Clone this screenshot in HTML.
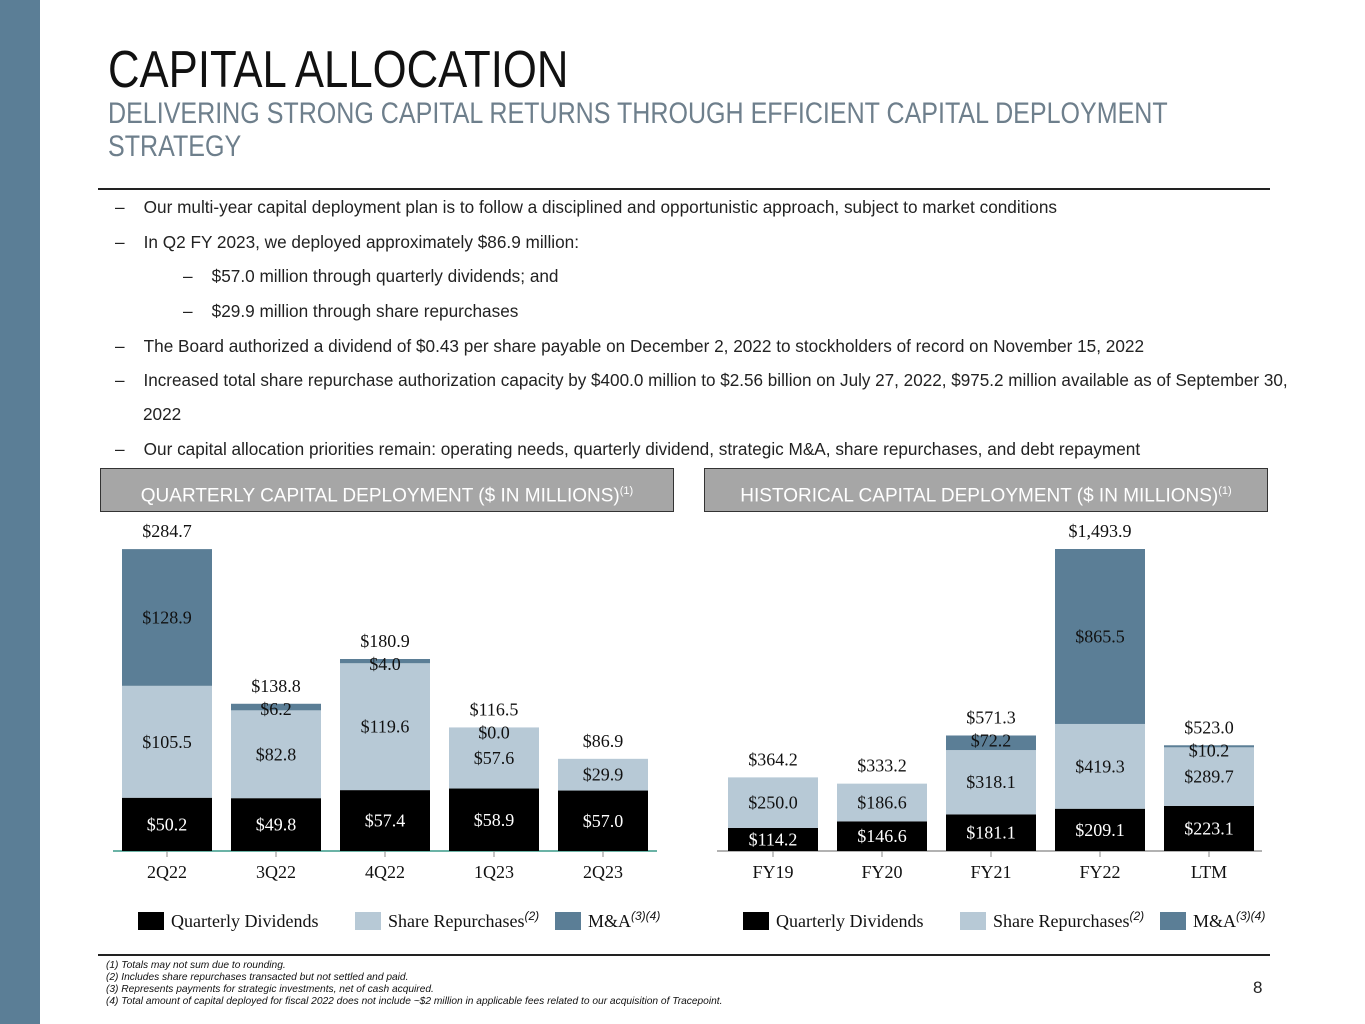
<!DOCTYPE html>
<html><head><meta charset="utf-8">
<style>
body{margin:0;width:1365px;height:1024px;position:relative;background:#fff;overflow:hidden;font-family:"Liberation Sans",sans-serif}
.abs{position:absolute}
.bul{position:absolute;font-size:17.2px;color:#222;white-space:nowrap}
.box{position:absolute;top:468px;height:44px;background:#a6a6a6;border:1.5px solid #333;color:#fff;font-size:19px;line-height:44px;text-align:center;box-sizing:border-box}
.box sup{font-size:11px}
.fn{position:absolute;left:106px;font-size:10.2px;font-style:italic;color:#111;white-space:nowrap}
</style></head><body>
<div class="abs" style="left:0;top:0;width:40px;height:1024px;background:#5b7e96"></div>
<div class="abs" style="left:108px;top:40px;font-size:52px;color:#111;white-space:nowrap;transform:scaleX(0.84);transform-origin:left top">CAPITAL ALLOCATION</div>
<div class="abs" style="left:108px;top:97px;font-size:30px;line-height:33px;color:#6e7f8c;white-space:nowrap;transform:scaleX(0.835);transform-origin:left top">DELIVERING STRONG CAPITAL RETURNS THROUGH EFFICIENT CAPITAL DEPLOYMENT<br>STRATEGY</div>
<div class="abs" style="left:98px;top:188px;width:1172px;height:2px;background:#222"></div>
<div class="bul" style="left:115px;top:197px">–&nbsp;&nbsp;&nbsp;&nbsp;Our multi-year capital deployment plan is to follow a disciplined and opportunistic approach, subject to market conditions</div>
<div class="bul" style="left:115px;top:232px">–&nbsp;&nbsp;&nbsp;&nbsp;In Q2 FY 2023, we deployed approximately $86.9 million:</div>
<div class="bul" style="left:183px;top:266px">–&nbsp;&nbsp;&nbsp;&nbsp;$57.0 million through quarterly dividends; and</div>
<div class="bul" style="left:183px;top:301px">–&nbsp;&nbsp;&nbsp;&nbsp;$29.9 million through share repurchases</div>
<div class="bul" style="left:115px;top:336px">–&nbsp;&nbsp;&nbsp;&nbsp;The Board authorized a dividend of $0.43 per share payable on December 2, 2022 to stockholders of record on November 15, 2022</div>
<div class="bul" style="left:115px;top:371px;font-size:17.1px">–&nbsp;&nbsp;&nbsp;&nbsp;Increased total share repurchase authorization capacity by $400.0 million to $2.56 billion on July 27, 2022, $975.2 million available as of September 30,</div>
<div class="bul" style="left:143px;top:404px">2022</div>
<div class="bul" style="left:115px;top:439px">–&nbsp;&nbsp;&nbsp;&nbsp;Our capital allocation priorities remain: operating needs, quarterly dividend, strategic M&amp;A, share repurchases, and debt repayment</div>
<div class="box" style="left:100px;width:574px">QUARTERLY CAPITAL DEPLOYMENT ($ IN MILLIONS)<sup>(1)</sup></div>
<div class="box" style="left:704px;width:564px">HISTORICAL CAPITAL DEPLOYMENT ($ IN MILLIONS)<sup>(1)</sup></div>
<svg class="abs" style="left:0;top:0" width="1365" height="1024" id="chart"></svg>
<div class="abs" style="left:98px;top:954px;width:1172px;height:2px;background:#222"></div>
<div class="fn" style="top:960px">(1) Totals may not sum due to rounding.</div>
<div class="fn" style="top:972px">(2) Includes share repurchases transacted but not settled and paid.</div>
<div class="fn" style="top:984px">(3) Represents payments for strategic investments, net of cash acquired.</div>
<div class="fn" style="top:996px">(4) Total amount of capital deployed for fiscal 2022 does not include ~$2 million in applicable fees related to our acquisition of Tracepoint.</div>
<div class="abs" style="left:1253px;top:978px;font-size:17px;color:#222">8</div>
<script>
const qCats=["2Q22","3Q22","4Q22","1Q23","2Q23"];
const qDiv=[50.2,49.8,57.4,58.9,57.0];
const qRep=[105.5,82.8,119.6,57.6,29.9];
const qMA=[128.9,6.2,4.0,0.0,0];
const qTot=["$284.7","$138.8","$180.9","$116.5","$86.9"];
const hCats=["FY19","FY20","FY21","FY22","LTM"];
const hDiv=[114.2,146.6,181.1,209.1,223.1];
const hRep=[250.0,186.6,318.1,419.3,289.7];
const hMA=[0,0,72.2,865.5,10.2];
const hTot=["$364.2","$333.2","$571.3","$1,493.9","$523.0"];
const qShowMA=[true,true,true,true,false];
const hShowMA=[false,false,true,true,true];
const NS="http://www.w3.org/2000/svg";
const svg=document.getElementById('chart');
const COL={d:"#000",r:"#b7c9d6",m:"#5b7e96"};
function mk(t,a,p){const e=document.createElementNS(NS,t);for(const k in a)e.setAttribute(k,a[k]);(p||svg).appendChild(e);return e;}
function txt(x,y,s,fill,size){const e=mk('text',{x:x,y:y,'text-anchor':'middle','dominant-baseline':'central','font-family':'Liberation Serif, serif','font-size':size||18,fill:fill});e.textContent=s;return e;}
function chart(cfg){
  const base=851, plotH=302;
  const y=v=>base-v*plotH/cfg.max;
  const x=i=>cfg.x0+i*109;
  const w=90;
  const ax=mk('line',{x1:cfg.ax0,x2:cfg.ax1,y1:base,y2:base,stroke:cfg.axc,'stroke-width':1.5});
  
  
  cfg.cats.forEach((c,i)=>{
    const d=cfg.div[i],r=cfg.rep[i],m=cfg.ma[i];
    const segs=[[0,d,COL.d,'dividends'],[d,d+r,COL.r,'repurchases'],[d+r,d+r+m,COL.m,'ma']];
    segs.forEach(s=>{
      if(s[1]-s[0]<=0)return;
      const rc=mk('rect',{x:x(i),y:y(s[1]),width:w,height:y(s[0])-y(s[1]),fill:s[2]});
      
      
    });
    const cx=x(i)+w/2;
    const t1=txt(cx,(y(0)+y(d))/2,'$'+d.toFixed(1),'#fff');
    
    const t2=txt(cx,(y(d)+y(d+r))/2,'$'+r.toFixed(1),'#111');
    
    const top=y(d+r+m);
    if(cfg.showMA[i]){
      const hh=y(d+r)-top;
      const my=hh<22?top+5:top+hh/2;
      const t3=txt(cx,my,'$'+m.toFixed(1),'#111');
      
    }
    const t4=txt(cx,top-18,cfg.tot[i],'#111');
    
    const tk=mk('line',{x1:cx,x2:cx,y1:base,y2:base+6,stroke:'#888'});
    
    const t5=txt(cx,872,c,'#111');
    
  });
  const leg=[[cfg.l0,COL.d,'Quarterly Dividends',''],[cfg.l0+217,COL.r,'Share Repurchases','(2)'],[cfg.l0+417,COL.m,'M&A','(3)(4)']];
  leg.forEach(l=>{
    const r=mk('rect',{x:l[0],y:912,width:26,height:18,fill:l[1]});
    
    const t=mk('text',{x:l[0]+33,y:927,'font-family':'Liberation Serif, serif','font-size':18,fill:'#111'});
    
    t.textContent=l[2];
    if(l[3]){const s=mk('tspan',{dy:-7,'font-size':12,'font-style':'italic','font-family':'Liberation Sans, sans-serif'},t);s.textContent=l[3];}
  });
}
chart({id:'quarterly',cats:qCats,div:qDiv,rep:qRep,ma:qMA,tot:qTot,showMA:qShowMA,max:284.7,x0:122,ax0:113,ax1:657,axc:'#3a9a88',l0:138});
chart({id:'historical',cats:hCats,div:hDiv,rep:hRep,ma:hMA,tot:hTot,showMA:hShowMA,max:1493.9,x0:728,ax0:717,ax1:1262,axc:'#999',l0:743});
</script>
</body></html>
